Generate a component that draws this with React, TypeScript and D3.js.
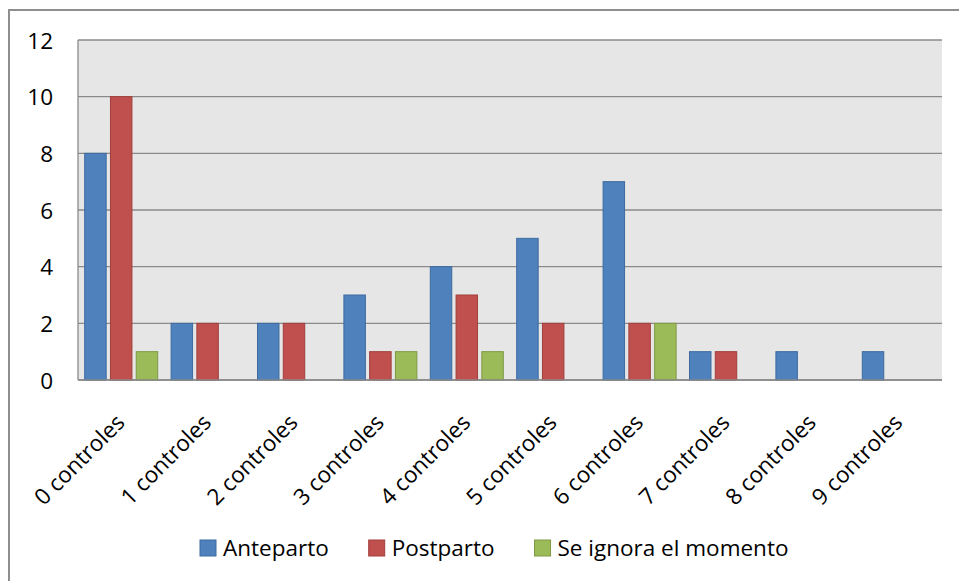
import React from "react";
import * as d3 from "d3";

const categories = ["0 controles", "1 controles", "2 controles", "3 controles", "4 controles", "5 controles", "6 controles", "7 controles", "8 controles", "9 controles"];
const seriesNames = ["Anteparto", "Postparto", "Se ignora el momento"];
const anteparto = [8, 2, 2, 3, 4, 5, 7, 1, 1, 1];
const postparto = [10, 2, 2, 1, 3, 2, 2, 1, 0, 0];
const seIgnora = [1, 0, 0, 1, 1, 0, 2, 0, 0, 0];
const yTicks = [0, 2, 4, 6, 8, 10, 12];

const seriesValues = [anteparto, postparto, seIgnora];
const fills = ["#4F81BD", "#C0504D", "#9BBB59"];
const strokes = ["#3C6A9F", "#A03F3C", "#7E9A45"];

const W = 959, H = 581;
const plot = { left: 78, right: 942, top: 40, bottom: 380 };
const FONT = "'Open Sans', sans-serif";
const FS = 22.5;

function measure(text: string): number {
  const c = document.createElement("canvas").getContext("2d");
  if (!c) return text.length * 11;
  c.font = `${FS}px 'Open Sans'`;
  return c.measureText(text).width;
}

export default function App() {
  const x = d3.scaleBand<string>().domain(categories).range([plot.left, plot.right]).padding(0);
  const xi = d3.scaleBand<number>().domain([0, 1, 2]).range([0, x.bandwidth()]).paddingInner(0.167).paddingOuter(0.26);
  const y = d3.scaleLinear().domain([0, 12]).range([plot.bottom, plot.top]);

  const legendX: number[] = [];
  let cx = 200;
  seriesNames.forEach((n) => {
    legendX.push(cx);
    cx += 23 + measure(n) + 40;
  });

  return (
    <svg width={W} height={H} style={{ position: "absolute", left: 0, top: 0, background: "#fff" }} fontFamily={FONT}>
      <rect x={9} y={10} width={W + 10} height={H + 10} fill="#fff" stroke="#8E8E8E" strokeWidth={2} />
      <rect x={plot.left} y={plot.top} width={plot.right - plot.left} height={plot.bottom - plot.top} fill="#E6E6E6" />
      {yTicks.map((t) => (
        <line key={t} x1={plot.left} x2={plot.right} y1={y(t)} y2={y(t)} stroke="#8A8A8A" strokeWidth={1.3} />
      ))}
      <line x1={plot.left} x2={plot.left} y1={plot.top} y2={plot.bottom} stroke="#8A8A8A" strokeWidth={1.3} />
      {yTicks.map((t) => (
        <text key={"l" + t} x={53} y={y(t)} textAnchor="end" dominantBaseline="central" fontSize={FS} fill="#000">{t}</text>
      ))}
      {categories.map((c, ci) => (
        <g key={c}>
          {seriesValues.map((vals, si) => {
            const v = vals[ci];
            if (!v) return null;
            const bx = (x(c) as number) + (xi(si) as number);
            return (
              <rect key={si} x={bx} y={y(v)} width={xi.bandwidth()} height={y(0) - y(v)} fill={fills[si]} stroke={strokes[si]} strokeWidth={1} />
            );
          })}
        </g>
      ))}
      <line x1={plot.left} x2={plot.right} y1={plot.bottom} y2={plot.bottom} stroke="#8A8A8A" strokeWidth={1.5} />
      {categories.map((c) => {
        const px = (x(c) as number) + x.bandwidth() / 2 + 5;
        const py = 424;
        return (
          <text key={"c" + c} x={px} y={py} textAnchor="end" fontSize={FS} fill="#000" transform={`rotate(-45 ${px} ${py})`}>{c}</text>
        );
      })}
      {seriesNames.map((n, i) => (
        <g key={n}>
          <rect x={legendX[i]} y={540} width={16} height={16} fill={fills[i]} stroke={strokes[i]} strokeWidth={1} />
          <text x={legendX[i] + 23} y={556} fontSize={FS} fill="#000">{n}</text>
        </g>
      ))}
    </svg>
  );
}
